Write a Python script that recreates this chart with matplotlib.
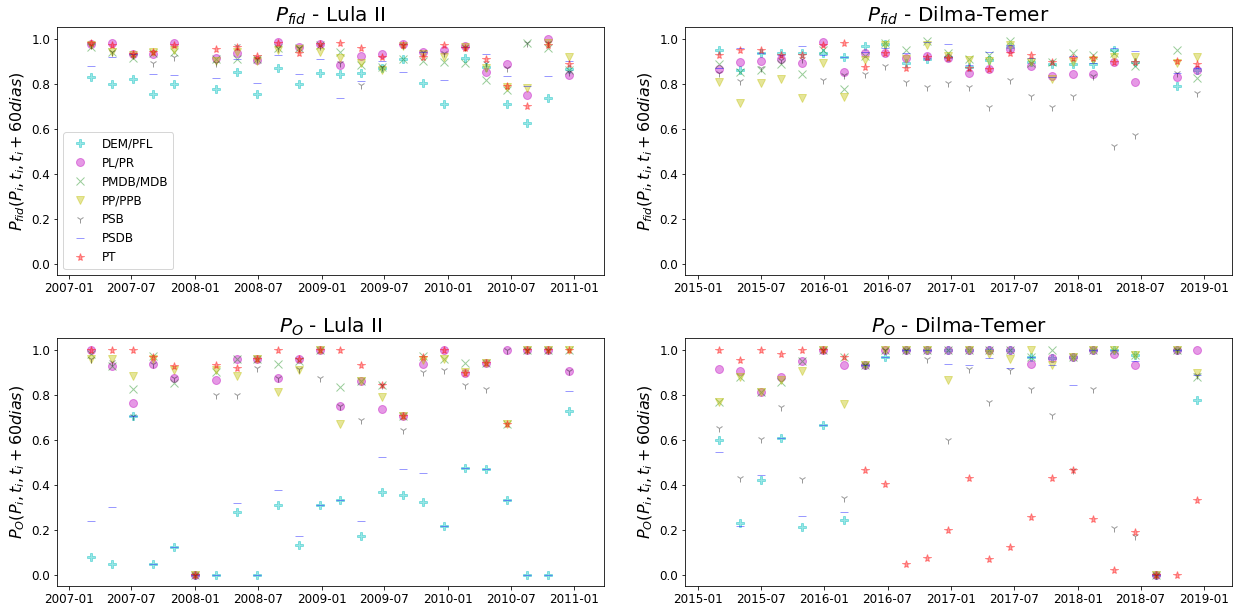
import numpy as np
import pandas as pd
import matplotlib
matplotlib.use('Agg')
import matplotlib.pyplot as plt
import matplotlib.dates as mdates

nan = np.nan

# datas t_i (janelas de 60 dias)
datas_lula = ['2007-03-07', '2007-05-06', '2007-07-05', '2007-09-03', '2007-11-02', '2008-01-01',
              '2008-03-01', '2008-04-30', '2008-06-29', '2008-08-28', '2008-10-27', '2008-12-26',
              '2009-02-24', '2009-04-25', '2009-06-24', '2009-08-23', '2009-10-22', '2009-12-21',
              '2010-02-19', '2010-04-20', '2010-06-19', '2010-08-18', '2010-10-17', '2010-12-16']
datas_dilma = ['2015-03-03', '2015-05-02', '2015-07-01', '2015-08-30', '2015-10-29', '2015-12-28',
               '2016-02-26', '2016-04-26', '2016-06-25', '2016-08-24', '2016-10-23', '2016-12-22',
               '2017-02-20', '2017-04-21', '2017-06-20', '2017-08-19', '2017-10-18', '2017-12-17',
               '2018-02-15', '2018-04-16', '2018-06-15', '2018-08-14', '2018-10-13', '2018-12-12']

partidos = ['DEM/PFL', 'PL/PR', 'PMDB/MDB', 'PP/PPB', 'PSB', 'PSDB', 'PT']

# P_fid - Lula II
fid_lula_dem = [0.83, 0.80, 0.82, 0.755, 0.80, nan, 0.775, 0.853, 0.755, 0.871, 0.798, 0.846, 0.842, 0.846, 0.871, 0.909, 0.802, 0.71, 0.912, 0.875, 0.71, 0.623, 0.736, 0.864]
fid_lula_pl = [0.975, 0.982, 0.93, 0.93, 0.978, nan, 0.915, 0.934, 0.905, 0.985, 0.963, 0.975, 0.883, 0.924, 0.93, 0.974, 0.941, 0.949, 0.968, 0.853, 0.887, 0.751, 1.0, 0.839]
fid_lula_pmdb = [0.963, 0.94, 0.915, 0.935, 0.94, nan, 0.91, 0.91, 0.908, 0.956, 0.956, 0.971, 0.941, 0.883, 0.875, 0.909, 0.90, 0.897, 0.893, 0.817, 0.773, 0.978, 0.96, 0.86]
fid_lula_pp = [0.97, 0.94, 0.925, 0.94, 0.95, nan, 0.90, 0.94, 0.90, 0.95, 0.955, 0.94, 0.912, 0.89, 0.86, 0.966, 0.93, 0.92, 0.963, 0.868, 0.783, 0.78, 0.978, 0.916]
fid_lula_psb = [0.97, 0.94, 0.925, 0.89, 0.92, nan, 0.89, 0.966, 0.908, 0.956, 0.959, 0.966, 0.89, 0.795, 0.875, 0.971, 0.94, 0.934, 0.963, 0.89, 0.868, 0.978, 0.978, 0.853]
fid_lula_psdb = [0.88, 0.916, 0.93, 0.843, 0.836, nan, 0.823, 0.908, 0.804, 0.928, 0.843, 0.909, 0.736, 0.812, 0.90, 0.853, 0.94, 0.814, 0.963, 0.931, 0.832, 0.788, 0.834, 0.902]
fid_lula_pt = [0.978, 0.971, 0.93, 0.941, 0.971, nan, 0.952, 0.963, 0.924, 0.978, 0.938, 0.975, 0.982, 0.96, 0.916, 0.971, 0.919, 0.971, 0.959, 0.908, 0.79, 0.70, 0.971, 0.887]

# P_fid - Dilma-Temer
fid_dilma_dem = [0.949, 0.86, 0.934, 0.937, 0.938, 0.938, 0.919, 0.968, 0.974, 0.893, 0.907, 0.916, 0.875, 0.904, 0.963, 0.894, 0.885, 0.885, 0.887, 0.949, 0.897, nan, 0.791, 0.86]
fid_dilma_pl = [0.863, 0.897, 0.901, 0.909, 0.89, 0.985, 0.853, 0.938, 0.938, 0.912, 0.924, 0.912, 0.846, 0.863, 0.953, 0.878, 0.834, 0.841, 0.841, 0.894, 0.809, nan, 0.828, 0.86]
fid_dilma_pmdb = [0.887, 0.853, 0.86, 0.885, 0.843, 0.949, 0.776, 0.922, 0.978, 0.949, 0.99, 0.934, 0.909, 0.926, 0.99, 0.89, 0.897, 0.938, 0.926, 0.937, 0.879, nan, 0.949, 0.824]
fid_dilma_pp = [0.809, 0.713, 0.801, 0.82, 0.735, 0.893, 0.74, 0.904, 0.971, 0.907, 0.971, 0.924, 0.904, 0.90, 0.971, 0.897, 0.819, 0.897, 0.904, 0.92, 0.919, nan, 0.89, 0.919]
fid_dilma_psb = [0.846, 0.812, 0.87, 0.905, 0.91, 0.816, 0.838, 0.843, 0.878, 0.809, 0.784, 0.804, 0.787, 0.696, 0.816, 0.747, 0.696, 0.747, 0.834, 0.522, 0.571, nan, 0.846, 0.757]
fid_dilma_psdb = [0.87, 0.956, 0.938, 0.926, 0.968, 0.926, 0.919, 0.941, 0.956, 0.937, 0.985, 0.975, 0.882, 0.941, 0.971, 0.912, 0.831, 0.922, 0.89, 0.96, 0.944, nan, 0.846, 0.871]
fid_dilma_pt = [0.926, 0.951, 0.951, 0.926, 0.929, 0.971, 0.978, 0.872, 0.938, 0.868, 0.916, 0.912, 0.868, 0.863, 0.938, 0.926, 0.897, 0.912, 0.912, 0.894, 0.897, nan, 0.901, 0.885]

# P_O - Lula II
o_lula_dem = [0.078, 0.049, 0.705, 0.049, 0.124, 0.0, 0.0, 0.279, 0.0, 0.311, 0.13, 0.311, 0.332, 0.171, 0.366, 0.353, 0.322, 0.215, 0.473, 0.47, 0.332, 0.0, 0.0, 0.726]
o_lula_pl = [1.0, 0.926, 0.764, 0.934, 0.872, 0.0, 0.864, 0.96, 0.956, 0.875, 0.956, 1.0, 0.749, 0.861, 0.736, 0.705, 0.934, 1.0, 0.894, 0.942, 1.0, 1.0, 1.0, 0.906]
o_lula_pmdb = [0.98, 0.926, 0.823, 0.97, 0.85, 0.0, 0.901, 0.96, 0.96, 0.935, 0.95, 1.0, 0.832, 0.86, 0.842, 0.705, 0.97, 0.956, 0.942, 0.942, 0.668, 1.0, 1.0, 1.0]
o_lula_pp = [0.96, 0.956, 0.882, 0.956, 0.909, 0.0, 0.909, 0.882, 0.96, 0.813, 0.91, 1.0, 0.668, 0.86, 0.79, 0.705, 0.953, 0.956, 0.9, 0.942, 0.668, 1.0, 1.0, 1.0]
o_lula_psb = [0.96, 0.945, 0.705, 0.938, 0.872, 0.0, 0.798, 0.798, 0.92, 0.875, 0.915, 0.872, 0.749, 0.687, 0.842, 0.643, 0.9, 0.91, 0.842, 0.823, 1.0, 1.0, 1.0, 0.906]
o_lula_psdb = [0.24, 0.30, 0.705, 0.049, 0.124, 0.0, 0.0, 0.32, 0.0, 0.375, 0.174, 0.311, 0.332, 0.24, 0.525, 0.47, 0.45, 0.215, 0.473, 0.47, 0.332, 0.0, 0.0, 0.817]
o_lula_pt = [1.0, 1.0, 1.0, 0.968, 0.926, 0.0, 0.93, 0.92, 0.96, 1.0, 0.956, 1.0, 1.0, 0.93, 0.842, 0.705, 0.968, 1.0, 0.894, 0.942, 0.668, 1.0, 1.0, 1.0]

# P_O - Dilma-Temer
o_dilma_dem = [0.599, 0.23, 0.419, 0.606, 0.212, 0.665, 0.242, 0.931, 0.968, 1.0, 1.0, 1.0, 1.0, 1.0, 1.0, 0.968, 0.963, 0.968, 1.0, 1.0, 0.975, 0.0, 1.0, 0.776]
o_dilma_pl = [0.913, 0.906, 0.813, 0.876, 0.95, 1.0, 0.931, 0.931, 1.0, 1.0, 1.0, 1.0, 1.0, 1.0, 1.0, 0.934, 0.963, 0.968, 1.0, 0.979, 0.931, 0.0, 1.0, 1.0]
o_dilma_pmdb = [0.768, 0.876, 0.813, 0.854, 0.95, 1.0, 0.968, 0.931, 1.0, 1.0, 1.0, 1.0, 1.0, 1.0, 1.0, 0.968, 1.0, 0.968, 1.0, 1.0, 0.975, 0.0, 1.0, 0.876]
o_dilma_pp = [0.768, 0.876, 0.813, 0.865, 0.904, 1.0, 0.758, 0.931, 1.0, 1.0, 1.0, 0.867, 1.0, 0.979, 0.96, 1.0, 0.93, 0.968, 1.0, 1.0, 0.975, 0.0, 1.0, 0.894]
o_dilma_psb = [0.653, 0.429, 0.602, 0.746, 0.425, 1.0, 0.341, 0.931, 1.0, 1.0, 0.96, 0.599, 0.913, 0.768, 0.909, 0.827, 0.709, 0.466, 0.827, 0.208, 0.171, 0.0, 1.0, 0.886]
o_dilma_psdb = [0.543, 0.215, 0.441, 0.606, 0.263, 0.665, 0.277, 0.931, 0.968, 1.0, 1.0, 0.934, 0.93, 0.963, 0.916, 0.968, 0.93, 0.842, 1.0, 1.0, 0.95, 0.0, 1.0, 0.886]
o_dilma_pt = [1.0, 0.953, 1.0, 0.979, 1.0, 1.0, 0.968, 0.466, 0.404, 0.049, 0.075, 0.2, 0.429, 0.071, 0.124, 0.257, 0.429, 0.466, 0.248, 0.021, 0.189, 0.0, 0.0, 0.333]

marcadores = ['P', 'o', 'x', 'v', '1', '_', '*']
cores = ['c', 'm', 'g', 'y', 'k', 'b', 'r']

paineis = [
    (datas_lula, [fid_lula_dem, fid_lula_pl, fid_lula_pmdb, fid_lula_pp, fid_lula_psb, fid_lula_psdb, fid_lula_pt],
     r'$P_{fid}$ - Lula II', r'$P_{fid}(P_i, t_i, t_i + 60 dias)$', ('2006-11-29', '2011-03-27')),
    (datas_dilma, [fid_dilma_dem, fid_dilma_pl, fid_dilma_pmdb, fid_dilma_pp, fid_dilma_psb, fid_dilma_psdb, fid_dilma_pt],
     r'$P_{fid}$ - Dilma-Temer', r'$P_{fid}(P_i, t_i, t_i + 60 dias)$', ('2014-11-25', '2019-03-21')),
    (datas_lula, [o_lula_dem, o_lula_pl, o_lula_pmdb, o_lula_pp, o_lula_psb, o_lula_psdb, o_lula_pt],
     r'$P_O$ - Lula II', r'$P_O(P_i, t_i, t_i + 60 dias)$', ('2006-11-29', '2011-03-27')),
    (datas_dilma, [o_dilma_dem, o_dilma_pl, o_dilma_pmdb, o_dilma_pp, o_dilma_psb, o_dilma_psdb, o_dilma_pt],
     r'$P_O$ - Dilma-Temer', r'$P_O(P_i, t_i, t_i + 60 dias)$', ('2014-11-25', '2019-03-21')),
]

fig, axs = plt.subplots(2, 2, figsize=(1239/72, 613/72), dpi=72)
plt.subplots_adjust(left=0.0462, right=0.9941, top=0.9555, bottom=0.044, wspace=0.1487, hspace=0.2556)

for ax, (datas, series, titulo, ylab, lim) in zip(axs.flat, paineis):
    x = pd.to_datetime(datas)
    for vals, nome, mk, cor in zip(series, partidos, marcadores, cores):
        ax.plot(x, vals, mk, color=cor, alpha=0.4, markersize=8, label=nome, linestyle='none')
    ax.set_title(titulo, fontsize=20)
    ax.set_ylabel(ylab, fontsize=16)
    ax.set_ylim(-0.05, 1.05)
    ax.set_xlim(pd.Timestamp(lim[0]), pd.Timestamp(lim[1]))
    ax.xaxis.set_major_locator(mdates.MonthLocator(bymonth=[1, 7]))
    ax.xaxis.set_major_formatter(mdates.DateFormatter('%Y-%m'))
    ax.tick_params(labelsize=12)

axs[0, 0].legend(loc='lower left', fontsize=12)

plt.savefig('out.png', dpi=72)
